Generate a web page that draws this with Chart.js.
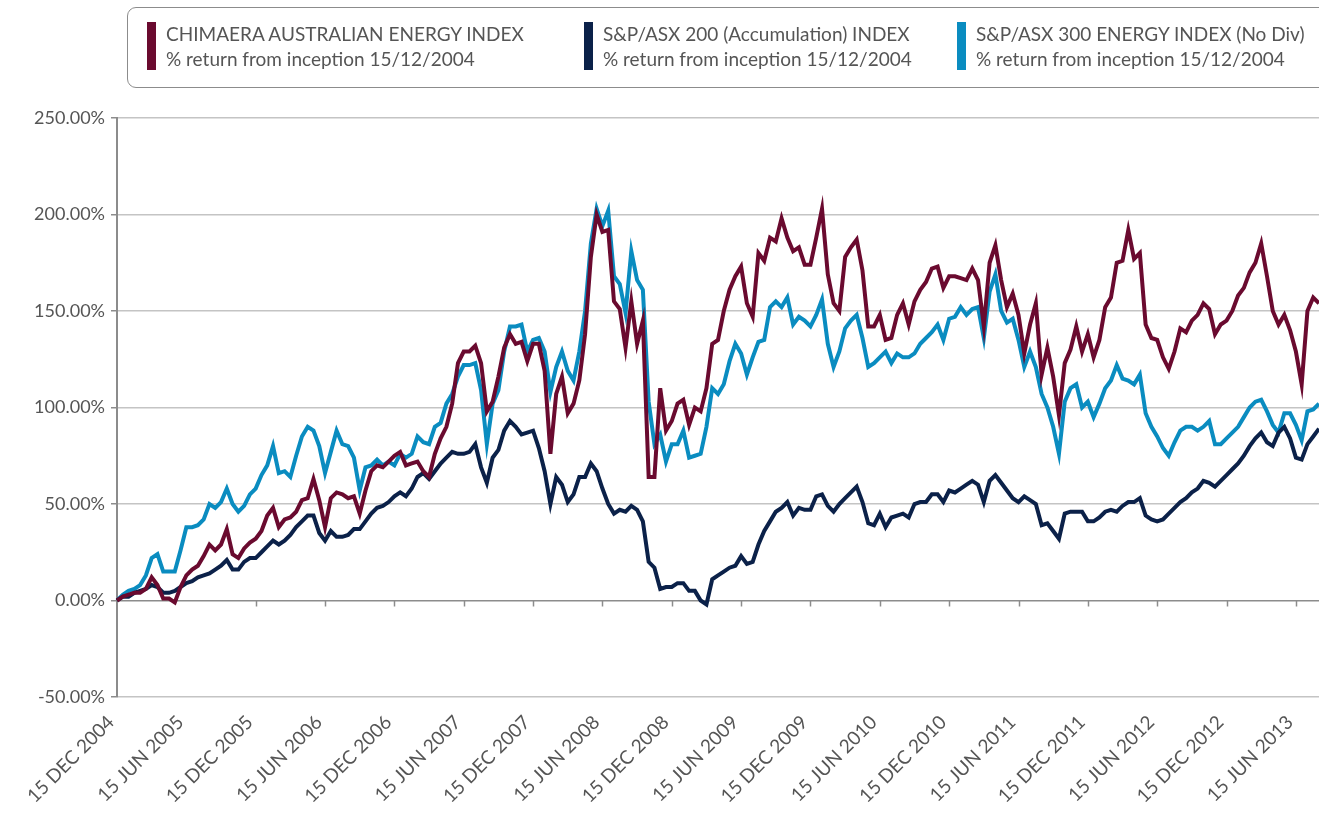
<!DOCTYPE html>
<html>
<head>
<meta charset="utf-8">
<script src="https://cdn.jsdelivr.net/npm/chart.js@4.4.0/dist/chart.umd.min.js"></script>
<style>
  html, body { margin: 0; padding: 0; background: #fff; }
  body { width: 1319px; height: 817px; position: relative; overflow: hidden; font-family: Lato, "Open Sans", sans-serif; }
  #wrap { position: absolute; left: 0; top: 0; width: 1319px; height: 817px; }
  #legend {
    position: absolute; left: 127px; top: 7px; width: 1220px; height: 81px;
    border: 1.5px solid #8c8c8c; border-radius: 9px; box-sizing: border-box;
  }
  .item { position: absolute; top: 13px; padding-left: 19px; color: #555; font-size: 19px; line-height: 25px; white-space: nowrap; }
  .item .bar { position: absolute; left: 0; top: 1px; width: 9px; height: 48px; }
</style>
</head>
<body>
<div id="wrap"><canvas id="chart"></canvas></div>
<div id="legend"></div>
<script>
// tick labels, one every 6 months from inception
const tickLabels = [
  "15 DEC 2004", "15 JUN 2005", "15 DEC 2005", "15 JUN 2006", "15 DEC 2006", "15 JUN 2007",
  "15 DEC 2007", "15 JUN 2008", "15 DEC 2008", "15 JUN 2009", "15 DEC 2009", "15 JUN 2010",
  "15 DEC 2010", "15 JUN 2011", "15 DEC 2011", "15 JUN 2012", "15 DEC 2012", "15 JUN 2013"
]

// half-monthly observation dates, 15 Dec 2004 .. 15 Aug 2013
const dates = []
for (let i = 0; i < 209; i++) {
  const d = new Date(2004, 11 + Math.floor(i / 2), i % 2 ? 30 : 15)
  dates.push(d.toISOString().slice(0, 10))
}

// % return from inception (two points per month)
const chimaera = [
  0, 2, 3, 4, 4, 6, 12, 8, 1, 1,
  -1, 7, 13, 16, 18, 23, 29, 26, 29, 37,
  24, 22, 27, 30, 32, 36, 44, 48, 38, 42,
  43, 46, 52, 53, 63, 52, 38, 53, 56, 55,
  53, 54, 45, 57, 67, 70, 69, 72, 75, 77,
  70, 71, 72, 67, 64, 76, 84, 90, 102, 123,
  129, 129, 132, 123, 98, 103, 116, 131, 138, 133,
  134, 124, 133, 133, 119, 76, 107, 116, 97, 102,
  114, 138, 178, 200, 191, 192, 155, 151, 131, 155,
  133, 145, 64, 64, 110, 88, 93, 102, 104, 91,
  100, 98, 110, 133, 135, 150, 161, 168, 173, 154,
  147, 180, 176, 188, 186, 198, 188, 181, 183, 174,
  174, 188, 203, 169, 154, 150, 178, 183, 187, 171,
  142, 142, 148, 135, 136, 148, 154, 143, 155, 161,
  165, 172, 173, 162, 168, 168, 167, 166, 172, 166,
  142, 175, 184, 166, 152, 159, 148, 128, 143, 154,
  117, 131, 116, 96, 123, 130, 142, 129, 138, 126,
  135, 152, 157, 175, 176, 192, 177, 180, 143, 136,
  135, 126, 120, 129, 141, 139, 145, 148, 154, 151,
  138, 143, 145, 150, 158, 162, 170, 175, 185, 168,
  150, 143, 148, 140, 129, 112, 150, 157, 154
]
const asx200 = [
  0, 2, 2, 4, 5, 6, 8, 7, 4, 4,
  5, 7, 9, 10, 12, 13, 14, 16, 18, 21,
  16, 16, 20, 22, 22, 25, 28, 31, 29, 31,
  34, 38, 41, 44, 44, 35, 31, 36, 33, 33,
  34, 37, 37, 41, 45, 48, 49, 51, 54, 56,
  54, 58, 64, 66, 63, 67, 71, 74, 77, 76,
  76, 77, 81, 69, 61, 74, 78, 88, 93, 90,
  86, 87, 88, 79, 67, 50, 64, 60, 51, 55,
  64, 64, 71, 67, 58, 50, 45, 47, 46, 49,
  47, 41, 20, 17, 6, 7, 7, 9, 9, 5,
  5, 0, -2, 11, 13, 15, 17, 18, 23, 19,
  20, 29, 36, 41, 46, 48, 51, 44, 48, 47,
  47, 54, 55, 49, 46, 50, 53, 56, 59, 51,
  40, 39, 45, 38, 43, 44, 45, 43, 50, 51,
  51, 55, 55, 51, 57, 56, 58, 60, 62, 60,
  51, 62, 65, 61, 57, 53, 51, 54, 52, 50,
  39, 40, 36, 32, 45, 46, 46, 46, 41, 41,
  43, 46, 47, 46, 49, 51, 51, 53, 44, 42,
  41, 42, 45, 48, 51, 53, 56, 58, 62, 61,
  59, 62, 65, 68, 71, 75, 80, 84, 87, 82,
  80, 87, 90, 84, 74, 73, 81, 85, 89
]
const energy300 = [
  0, 3, 5, 6, 8, 13, 22, 24, 15, 15,
  15, 26, 38, 38, 39, 42, 50, 48, 51, 58,
  50, 46, 49, 55, 58, 65, 70, 80, 66, 67,
  64, 75, 85, 90, 88, 80, 66, 77, 88, 81,
  80, 74, 57, 69, 70, 73, 70, 72, 70, 76,
  74, 76, 85, 82, 81, 90, 92, 102, 107, 116,
  122, 122, 123, 109, 81, 102, 109, 129, 142, 142,
  143, 129, 135, 136, 129, 108, 121, 129, 119, 114,
  129, 150, 185, 203, 194, 202, 168, 164, 149, 181,
  166, 161, 103, 81, 86, 72, 81, 81, 88, 74,
  75, 76, 90, 110, 107, 112, 124, 133, 128, 117,
  126, 134, 135, 152, 155, 152, 157, 143, 147, 145,
  142, 148, 156, 133, 121, 129, 141, 145, 148, 136,
  121, 123, 126, 129, 123, 128, 126, 126, 128, 133,
  136, 139, 143, 135, 146, 147, 152, 148, 151, 152,
  136, 160, 169, 150, 144, 146, 135, 121, 129, 121,
  107, 100, 90, 76, 103, 110, 112, 100, 103, 95,
  102, 110, 114, 122, 115, 114, 112, 117, 97, 90,
  85, 79, 75, 82, 88, 90, 90, 88, 90, 93,
  81, 81, 84, 87, 90, 95, 100, 103, 104, 98,
  91, 87, 97, 97, 91, 83, 98, 99, 102
]

const series = [
  { name: "CHIMAERA AUSTRALIAN ENERGY INDEX", data: chimaera, color: "#6a0a2f", order: 0, left: 19 },
  { name: "S&P/ASX 200 (Accumulation) INDEX", data: asx200, color: "#0b2149", order: 1, left: 456 },
  { name: "S&P/ASX 300 ENERGY INDEX (No Div)", data: energy300, color: "#0a8cc0", order: 2, left: 829 }
]

// html legend box at the top
const legend = document.getElementById("legend")
series.forEach((s) => {
  const el = document.createElement("div")
  el.className = "item"
  el.style.left = s.left + "px"
  el.innerHTML = `<span class="bar" style="background:${s.color}"></span>` +
    `<div>${s.name.replace("&", "&amp;")}</div><div>% return from inception 15/12/2004</div>`
  legend.appendChild(el)
})

const axisGrey = "#8c8c8c"
const textGrey = "#555"
const font = { family: "Lato, 'Open Sans', sans-serif", size: 18 }

// small tick marks on the 0% line, every 6 months
const zeroTicks = {
  id: "zeroTicks",
  beforeDatasetsDraw(chart) {
    const { ctx, scales } = chart
    const y0 = scales.y.getPixelForValue(0)
    ctx.save()
    ctx.strokeStyle = axisGrey
    ctx.lineWidth = 1.5
    for (let i = 24; i < dates.length; i += 12) {
      const px = Math.round(scales.x.getPixelForValue(i)) + 0.5
      ctx.beginPath()
      ctx.moveTo(px, y0)
      ctx.lineTo(px, y0 + 6)
      ctx.stroke()
    }
    ctx.restore()
  },
}

new Chart(document.getElementById("chart"), {
  type: "line",
  data: {
    labels: dates,
    datasets: series.map((s) => ({
      label: s.name,
      data: s.data,
      borderColor: s.color,
      backgroundColor: s.color,
      borderWidth: 4,
      pointRadius: 0,
      tension: 0,
      order: s.order,
    })),
  },
  options: {
    responsive: true,
    maintainAspectRatio: false,
    animation: false,
    layout: { padding: { top: 118, right: 0, left: 0, bottom: 0 } },
    plugins: { legend: { display: false }, tooltip: { enabled: false } },
    scales: {
      x: {
        type: "category",
        offset: false,
        grid: { display: false, drawTicks: false },
        border: { display: false },
        ticks: {
          autoSkip: false,
          minRotation: 45,
          maxRotation: 45,
          padding: 14,
          labelOffset: -6,
          color: textGrey,
          font: { family: font.family, size: 19 },
          callback: (v, i) => (i % 12 === 0 ? tickLabels[i / 12] : ""),
        },
        afterFit: (scale) => {
          scale.height = 120
          scale.paddingLeft = 0
          scale.paddingRight = 0
        },
      },
      y: {
        min: -50,
        max: 250,
        ticks: {
          stepSize: 50,
          padding: 6,
          color: textGrey,
          font: font,
          callback: (v) => v.toFixed(2) + "%",
        },
        grid: {
          color: (c) => (c.tick && c.tick.value === 0 ? axisGrey : "#c4c4c4"),
          lineWidth: 1.5,
          tickLength: 6,
          tickColor: axisGrey,
        },
        border: { color: axisGrey, width: 2 },
        afterFit: (scale) => { scale.width = 117 },
      },
    },
  },
  plugins: [zeroTicks],
})
</script>
</body>
</html>
